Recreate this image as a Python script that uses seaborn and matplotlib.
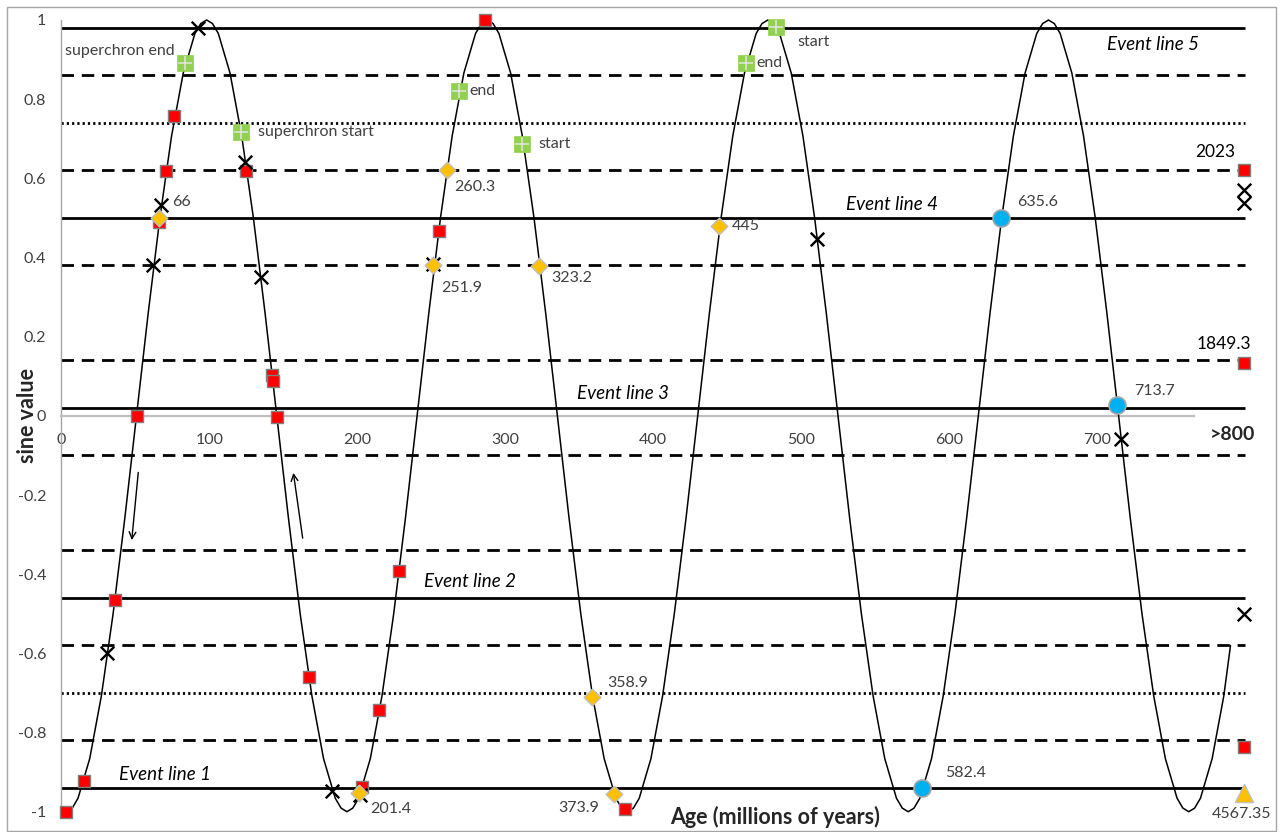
import numpy as np
import matplotlib
matplotlib.use("Agg")
import matplotlib.pyplot as plt
import seaborn as sns
from matplotlib.patches import Rectangle

# sine curve (age in Myr, sine value)
curve_age = [3.4, 7.35, 11.3, 19.2, 27.1, 35.0, 42.9, 50.8, 58.7, 66.6, 74.5, 82.4, 90.3, 94.25,
             98.2, 102.15, 106.1, 114.0, 121.9, 129.8, 137.7, 145.6, 153.5, 161.4, 169.3, 177.2, 185.1, 189.05,
             193.0, 196.95, 200.9, 208.8, 216.7, 224.6, 232.5, 240.4, 248.3, 256.2, 264.1, 272.0, 279.9, 283.85,
             287.8, 291.75, 295.7, 303.6, 311.5, 319.4, 327.3, 335.2, 343.1, 351.0, 358.9, 366.8, 374.7, 378.65,
             382.6, 386.55, 390.5, 398.4, 406.3, 414.2, 422.1, 430.0, 437.9, 445.8, 453.7, 461.6, 469.5, 473.45,
             477.4, 481.35, 485.3, 493.2, 501.1, 509.0, 516.9, 524.8, 532.7, 540.6, 548.5, 556.4, 564.3, 568.25,
             572.2, 576.15, 580.1, 588.0, 595.9, 603.8, 611.7, 619.6, 627.5, 635.4, 643.3, 651.2, 659.1, 663.05,
             667.0, 670.95, 674.9, 682.8, 690.7, 698.6, 706.5, 714.4, 722.3, 730.2, 738.1, 746.0, 753.9, 757.85,
             761.8, 765.75, 769.7, 777.6, 785.5, 790.0]
curve_sine = [-1, -0.991, -0.966, -0.866, -0.707, -0.5, -0.259, 0, 0.259, 0.5, 0.707, 0.866, 0.966, 0.991,
              1, 0.991, 0.966, 0.866, 0.707, 0.5, 0.259, 0, -0.259, -0.5, -0.707, -0.866, -0.966, -0.991,
              -1, -0.991, -0.966, -0.866, -0.707, -0.5, -0.259, 0, 0.259, 0.5, 0.707, 0.866, 0.966, 0.991,
              1, 0.991, 0.966, 0.866, 0.707, 0.5, 0.259, 0, -0.259, -0.5, -0.707, -0.866, -0.966, -0.991,
              -1, -0.991, -0.966, -0.866, -0.707, -0.5, -0.259, 0, 0.259, 0.5, 0.707, 0.866, 0.966, 0.991,
              1, 0.991, 0.966, 0.866, 0.707, 0.5, 0.259, 0, -0.259, -0.5, -0.707, -0.866, -0.966, -0.991,
              -1, -0.991, -0.966, -0.866, -0.707, -0.5, -0.259, 0, 0.259, 0.5, 0.707, 0.866, 0.966, 0.991,
              1, 0.991, 0.966, 0.866, 0.707, 0.5, 0.259, 0, -0.259, -0.5, -0.707, -0.866, -0.966, -0.991,
              -1, -0.991, -0.966, -0.866, -0.707, -0.58]

# horizontal reference lines
solid_levels = [0.98, 0.5, 0.02, -0.46, -0.94]
dashed_levels = [0.86, 0.62, 0.38, 0.14, -0.10, -0.34, -0.58, -0.82]
dotted_levels = [0.74, -0.70]

# red squares
red_age = [3, 15.5, 36.1, 50.9, 66.2, 70.7, 76.4, 124.8, 142.4, 142.8, 145.9, 167.4,
           203.4, 214.9, 228.0, 255.0, 286.5, 380.9, 799, 799, 799]
red_sine = [-1.0, -0.922, -0.464, 0.0, 0.49, 0.618, 0.758, 0.618, 0.104, 0.088, -0.002, -0.659,
            -0.937, -0.744, -0.392, 0.467, 1.0, -0.994, 0.62, 0.134, -0.836]

# black crosses
cross_age = [31.1, 62.2, 67.6, 92.4, 124.1, 134.9, 182.7, 201.8, 251.4, 510.4, 715.8, 799, 799, 799]
cross_sine = [-0.598, 0.38, 0.532, 0.98, 0.642, 0.352, -0.947, -0.958, 0.384, 0.447, -0.058,
              0.570, 0.537, -0.5]

# orange diamonds (extinction events)
dia_age = [66.2, 201.1, 251.4, 260.4, 323.0, 358.8, 373.4, 444.4]
dia_sine = [0.5, -0.954, 0.382, 0.62, 0.378, -0.709, -0.956, 0.479]
dia_text = ["66", "201.4", "251.9", "260.3", "323.2", "358.9", "373.9", "445"]

# green squares (superchrons)
grn_age = [83.8, 121.4, 268.7, 311.5, 462.4, 482.7]
grn_sine = [0.892, 0.718, 0.82, 0.688, 0.892, 0.983]
grn_text = ["superchron end", "superchron start", "end", "start", "end", "start"]

# blue circles
blu_age = [581.8, 634.7, 713.1]
blu_sine = [-0.941, 0.5, 0.028]
blu_text = ["582.4", "635.6", "713.7"]

# orange triangle
tri_age = [799]
tri_sine = [-0.952]
tri_text = ["4567.35"]

y_ticks = [-1, -0.8, -0.6, -0.4, -0.2, 0, 0.2, 0.4, 0.6, 0.8, 1]
y_tick_text = ["-1", "-0.8", "-0.6", "-0.4", "-0.2", "0", "0.2", "0.4", "0.6", "0.8", "1"]
x_ticks = [0, 100, 200, 300, 400, 500, 600, 700]

sns.set_style("white")
plt.rcParams['font.family'] = ['Lato', 'DejaVu Sans']
plt.rcParams['axes.unicode_minus'] = False

fig = plt.figure(figsize=(12.85, 8.32), dpi=100)
ax = fig.add_axes([61.3 / 1285, 20.3 / 832, 1213.6 / 1285, 791.7 / 832])
ax.set_xlim(0, 820)
ax.set_ylim(-1, 1)

# outer chart border
fig.patches.append(Rectangle((7 / 1285, 1 / 832), 1269 / 1285, 824 / 832, transform=fig.transFigure,
                             fill=False, edgecolor='#A6A6A6', linewidth=1))

ax.hlines(solid_levels, 0, 800, colors='black', linewidth=2.0, zorder=2, clip_on=False)
ax.hlines(dashed_levels, 0, 800, colors='black', linewidth=2.0, linestyles=[(0, (4.5, 2.8))], zorder=2)
ax.hlines(dotted_levels, 0, 800, colors='black', linewidth=2.0, linestyles=[(0, (0.8, 1.1))], zorder=2)

sns.lineplot(x=curve_age, y=curve_sine, sort=False, color='black', linewidth=1.1, ax=ax,
             zorder=3, clip_on=False)

gray_txt = '#404040'
sns.scatterplot(x=red_age, y=red_sine, marker='s', s=85, color='#FF0000', edgecolor='#7F7F7F',
                linewidth=1, ax=ax, zorder=4, clip_on=False)
sns.scatterplot(x=cross_age, y=cross_sine, marker='x', s=95, color='black', linewidth=1.7,
                ax=ax, zorder=5, clip_on=False)
sns.scatterplot(x=dia_age, y=dia_sine, marker='D', s=72, color='#FFC000', edgecolor='#BFBFBF',
                linewidth=1, ax=ax, zorder=6, clip_on=False)
sns.scatterplot(x=grn_age, y=grn_sine, marker='s', s=125, color='#92D050', edgecolor='#92D050',
                linewidth=0.5, ax=ax, zorder=6, clip_on=False)
ax.scatter(grn_age, grn_sine, marker='+', s=115, color='#E4E4E4', linewidth=1.1, zorder=7, clip_on=False)
sns.scatterplot(x=blu_age, y=blu_sine, marker='o', s=150, color='#00B0F0', edgecolor='#A6A6A6',
                linewidth=1.2, ax=ax, zorder=6, clip_on=False)
sns.scatterplot(x=tri_age, y=tri_sine, marker='^', s=170, color='#FFC000', edgecolor='#BFBFBF',
                linewidth=1, ax=ax, zorder=6, clip_on=False)

lab = dict(fontsize=11.5, color=gray_txt, textcoords='offset points', va='center')
dia_off = [(9.6, 11.3, 'left'), (8.4, -11.5, 'left'), (5.5, -16.8, 'left'), (5.3, -11.8, 'left'),
           (8.9, -8.2, 'left'), (10.4, 10, 'left'), (-10.6, -9.6, 'right'), (9.1, 0, 'left')]
for x, y, t, (dx, dy, ha) in zip(dia_age, dia_sine, dia_text, dia_off):
    ax.annotate(t, (x, y), xytext=(dx, dy), ha=ha, **lab)

grn_off = [(-7.9, 8.4, 'right'), (12.5, 0, 'left'), (7.4, 0, 'left'), (11.5, 0, 'left'),
           (7.4, 0, 'left'), (15.8, -10.8, 'left')]
for x, y, t, (dx, dy, ha) in zip(grn_age, grn_sine, grn_text, grn_off):
    ax.annotate(t, (x, y), xytext=(dx, dy), ha=ha, **lab)

blu_off = [(16.3, 10.8), (11.5, 11.7), (12.5, 9.8)]
for x, y, t, (dx, dy) in zip(blu_age, blu_sine, blu_text, blu_off):
    ax.annotate(t, (x, y), xytext=(dx, dy), ha='left', **lab)

ax.annotate(tri_text[0], (tri_age[0], tri_sine[0]), xytext=(-1.7, -15.6), ha='center', **lab)
ax.annotate("2023", (red_age[18], red_sine[18]), xytext=(-20.9, 13.2), ha='center',
            fontsize=12.5, color='black', textcoords='offset points', va='center')
ax.annotate("1849.3", (red_age[19], red_sine[19]), xytext=(-14.4, 13.2), ha='center',
            fontsize=12.5, color='black', textcoords='offset points', va='center')
ax.text(791.5, -0.046, ">800", fontsize=14, fontweight='bold', ha='center', va='center')

ev = dict(fontsize=13.5, style='italic', ha='center', va='center', color='black')
ax.text(737.7, 0.937, "Event line 5", **ev)
ax.text(561.1, 0.534, "Event line 4", **ev)
ax.text(379.7, 0.057, "Event line 3", **ev)
ax.text(276.2, -0.419, "Event line 2", **ev)
ax.text(70.1, -0.9055, "Event line 1", **ev)

# direction arrows
arw = dict(arrowstyle='->', color='black', lw=1.0, shrinkA=0, shrinkB=0, mutation_scale=12)
ax.annotate("", xy=(47.6, -0.314), xytext=(52.0, -0.143), arrowprops=arw)
ax.annotate("", xy=(156.8, -0.144), xytext=(163.1, -0.309), arrowprops=arw)

# axes styling
for s in ['top', 'right']:
    ax.spines[s].set_visible(False)
ax.spines['left'].set_position(('data', 0))
ax.spines['left'].set_color('#A6A6A6')
ax.spines['left'].set_linewidth(1.0)
ax.spines['bottom'].set_position(('data', 0))
ax.spines['bottom'].set_color('#BFBFBF')
ax.spines['bottom'].set_linewidth(1.6)
ax.spines['bottom'].set_bounds(0, 765)
ax.set_yticks(y_ticks)
ax.set_yticklabels(y_tick_text)
ax.set_xticks(x_ticks)
ax.set_xticklabels([str(v) for v in x_ticks])
ax.tick_params(axis='y', direction='out', length=5, width=1, color='#A6A6A6', pad=6,
               labelsize=11.5, labelcolor=gray_txt)
ax.tick_params(axis='x', direction='out', length=5, width=1, color='#A6A6A6', pad=7,
               labelsize=11.5, labelcolor=gray_txt)
ax.set_ylabel("sine value", fontsize=15.5, fontweight='bold')
ax.yaxis.set_label_coords(-0.0192, 0.5)
ax.text(482, -1.013, "Age (millions of years)", fontsize=15.5, fontweight='bold', ha='center',
        va='center')

fig.savefig("out.png", dpi=100)
